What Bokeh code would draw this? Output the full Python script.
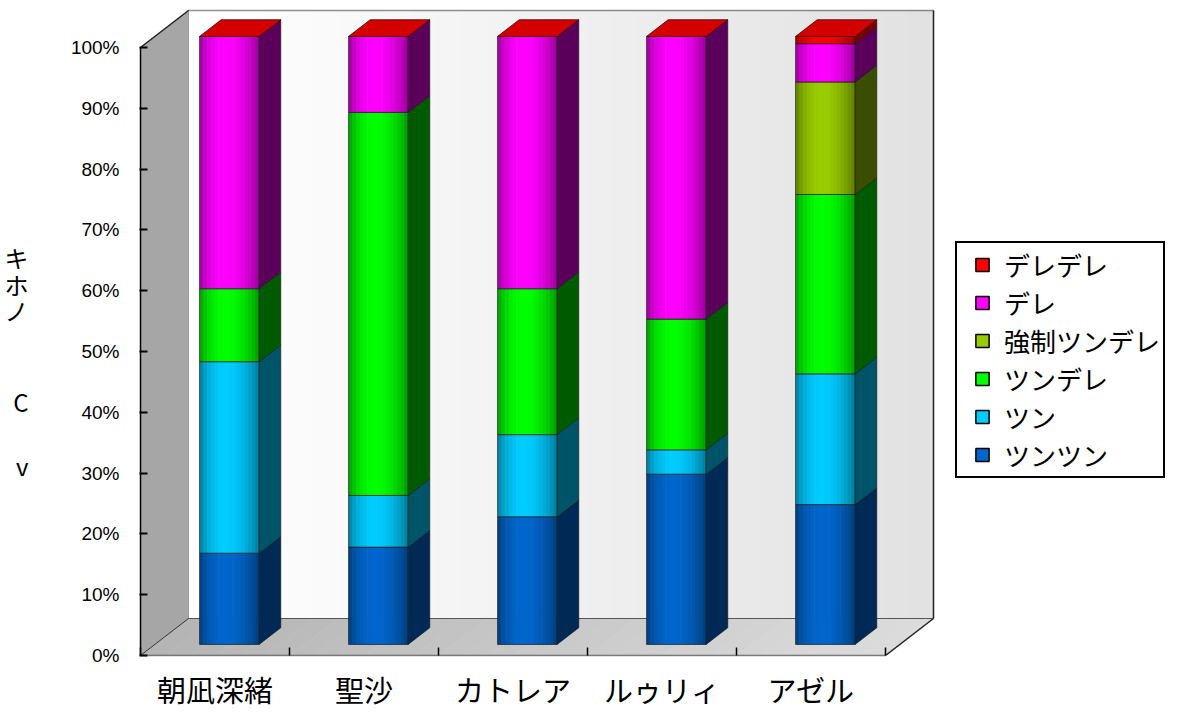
import numpy as np
from bokeh.plotting import figure
from bokeh.models import Range1d, FixedTicker, Legend, LegendItem, LinearAxis
from bokeh.embed import file_html
from bokeh.resources import INLINE

# ---------------- data ----------------
categories = ["朝凪深緒", "聖沙", "カトレア", "ルゥリィ", "アゼル"]
series_names = ["ツンツン", "ツン", "ツンデレ", "強制ツンデレ", "デレ", "デレデレ"]
tsuntsun = [15, 16, 21, 28, 23]
tsun = [31.5, 8.5, 13.5, 4, 21.5]
tsundere = [12, 63, 24, 21.5, 29.5]
kyousei_tsundere = [0, 0, 0, 0, 18.5]
dere = [41.5, 12.5, 41.5, 46.5, 6.3]
deredere = [0, 0, 0, 0, 1.2]
series_values = [tsuntsun, tsun, tsundere, kyousei_tsundere, dere, deredere]
y_ticks = [0, 10, 20, 30, 40, 50, 60, 70, 80, 90, 100]
y_tick_labels = ["0%", "10%", "20%", "30%", "40%", "50%", "60%", "70%", "80%", "90%", "100%"]
y_title_parts = ["キ", "ホ", "ノ", "C", "v"]

front_colors = ["#0066CC", "#00CCFF", "#00FF00", "#99CC00", "#FF00FF", "#FF0000"]
side_colors = ["#002a55", "#005468", "#005a00", "#3a4d00", "#5a005a", "#7a0000"]
top_color = "#d40000"

# ---------------- geometry ----------------
W, H = 1186, 713
FL, FB, FT, FR = 140, 58, 5, 6
PXX, PXY = 149.0, 6.08
frame_w = W - FL - FR
frame_h = H - FB - FT
NCAT = len(categories)
DX, DY = 48 / PXX, 37 / PXY          # full depth of the 3-D box in data units
F0, F1 = 0.30, 0.75                  # bar front / back depth fractions
HALF = 0.2                           # half bar width (category units)
TOTAL = 100

FONT_JP = "Noto Sans CJK JP"


def hex2rgb(h):
    h = h.lstrip("#")
    return np.array([int(h[i:i + 2], 16) for i in (0, 2, 4)], dtype=float)


def rgb2hex(c):
    c = np.clip(np.round(c), 0, 255).astype(int)
    return "#%02x%02x%02x" % tuple(c)


def mix(a, b, t):
    return rgb2hex(hex2rgb(a) * (1 - t) + hex2rgb(b) * t)


def shade(h, f):
    return rgb2hex(hex2rgb(h) * f)


p = figure(width=W, height=H, output_backend="svg", toolbar_location=None,
           x_range=Range1d(0, frame_w / PXX), y_range=Range1d(0, frame_h / PXY),
           min_border_left=FL, min_border_right=FR, min_border_top=FT,
           min_border_bottom=FB)
p.xgrid.visible = False
p.ygrid.visible = False
p.outline_line_color = None
p.background_fill_color = "white"
p.border_fill_color = "white"

EPS = 0.004

# ---------------- walls & floor ----------------
n = 30
xs = np.linspace(DX, NCAT + DX, n + 1)
wall_cols = [mix("#ffffff", "#e2e2e2", (i + 0.5) / n) for i in range(n)]
p.quad(left=xs[:-1], right=xs[1:] + EPS, bottom=DY, top=TOTAL + DY,
       fill_color=wall_cols, line_color=None)

p.patch([0, 0, DX, DX], [0, TOTAL, TOTAL + DY, DY],
        fill_color="#a6a6a6", line_color="#a6a6a6")

fx = np.linspace(0, NCAT, n + 1)
floor_cols = [mix("#b4b4b4", "#dcdcdc", (i + 0.5) / n) for i in range(n)]
p.patches([[fx[i], fx[i + 1] + EPS, fx[i + 1] + EPS + DX, fx[i] + DX] for i in range(n)],
          [[0, 0, DY, DY] for _ in range(n)],
          fill_color=floor_cols, line_color=None)

p.line([DX, DX], [DY, TOTAL + DY], line_color="#9a9a9a", line_width=1)
p.line([DX, NCAT + DX], [DY, DY], line_color="#555555", line_width=1)
p.line([NCAT + DX, NCAT + DX], [DY, TOTAL + DY], line_color="#222222", line_width=1.5)
p.line([DX, NCAT + DX], [TOTAL + DY, TOTAL + DY], line_color="#222222",
       line_width=1.5, line_dash="1 1")
p.line([0, DX], [TOTAL, TOTAL + DY], line_color="#222222", line_width=1.5)
p.line([NCAT, NCAT + DX], [0, DY], line_color="#222222", line_width=1.5)
p.line([0, DX], [0, DY], line_color="#333333", line_width=1)

# ---------------- bars ----------------
NS = 16
prof = [(0.58 + 0.42 * np.sin(np.pi * ((k + 0.5) / NS) ** 0.85) ** 0.8) for k in range(NS)]
dxs = (F1 - F0) * DX
for i in range(NCAT):
    c = i + 0.5
    xl = c - HALF + F0 * DX
    xr = c + HALF + F0 * DX
    sx = np.linspace(xl, xr, NS + 1)
    rights = sx[1:].copy()
    rights[:-1] += EPS
    cum = 0.0
    for s in range(len(series_names)):
        v = series_values[s][i]
        b, t = cum, cum + v
        cum = t
        if v <= 0:
            continue
        cols = [shade(front_colors[s], f) for f in prof]
        p.quad(left=sx[:-1], right=rights, bottom=b + F0 * DY, top=t + F0 * DY,
               fill_color=cols, line_color=None)
        p.quad(left=[xl], right=[xr], bottom=[b + F0 * DY], top=[t + F0 * DY],
               fill_alpha=0, line_color="#1a1a1a", line_width=1, line_alpha=0.7)
        p.patch([xr, xr + dxs, xr + dxs, xr],
                [b + F0 * DY, b + F1 * DY, t + F1 * DY, t + F0 * DY],
                fill_color=side_colors[s], line_color="#111111", line_width=0.8,
                line_alpha=0.7)
    # top face (Excel draws the top-series colour on top)
    p.patch([xl, xr, xr + dxs, xl + dxs],
            [cum + F0 * DY, cum + F0 * DY, cum + F1 * DY, cum + F1 * DY],
            fill_color=top_color, line_color="#3a0000", line_width=0.8)

# ---------------- axes ----------------
yax = p.yaxis[0]
yax.ticker = FixedTicker(ticks=y_ticks, minor_ticks=[])
yax.major_label_overrides = {t: l for t, l in zip(y_ticks, y_tick_labels)}
yax.bounds = (0, TOTAL)
yax.axis_line_color = "black"
yax.axis_line_width = 1.5
yax.major_tick_in = 7
yax.major_tick_out = 1
yax.major_tick_line_width = 2
yax.major_label_standoff = 20
yax.major_label_text_font = "Liberation Sans"
yax.major_label_text_font_size = "19px"
yax.major_label_text_color = "black"

xax = p.xaxis[0]
centers = [i + 0.5 for i in range(NCAT)]
xax.ticker = FixedTicker(ticks=centers, minor_ticks=list(range(NCAT + 1)))
xax.major_label_overrides = {c: l for c, l in zip(centers, categories)}
xax.bounds = (0, NCAT)
xax.axis_line_color = "black"
xax.axis_line_width = 1.5
xax.axis_line_dash = "1 1"
xax.major_tick_in = 0
xax.major_tick_out = 0
xax.minor_tick_in = 8
xax.minor_tick_out = 0
xax.minor_tick_line_color = "black"
xax.minor_tick_line_width = 1.5
xax.major_label_standoff = 12
xax.major_label_text_font = FONT_JP
xax.major_label_text_font_size = "29px"
xax.major_label_text_color = "black"

# ---------------- y title (upright stacked glyphs, as an extra axis) ----------------
title_px_y = [257, 284, 310, 401, 465]
title_ticks = [round((655 - py) / PXY, 2) for py in title_px_y]
tax = LinearAxis(ticker=FixedTicker(ticks=title_ticks, minor_ticks=[]),
                 major_label_overrides={t: s for t, s in zip(title_ticks, y_title_parts)},
                 axis_line_color=None, major_tick_line_color=None,
                 minor_tick_line_color=None, major_label_standoff=33,
                 major_label_text_font=FONT_JP, major_label_text_font_size="24px",
                 major_label_text_color="black")
p.add_layout(tax, "left")

# ---------------- legend ----------------
items = []
for s in range(len(series_names)):
    r = p.scatter(x=[-50], y=[-50], marker="square", size=13, fill_color=front_colors[s],
                  line_color="black", line_width=1.5)
    items.append(LegendItem(label=series_names[s], renderers=[r]))
items = items[::-1]
legend = Legend(items=items, location=(955 - FL, 655 - 478), orientation="vertical",
                glyph_width=44, glyph_height=33, label_width=156,
                label_standoff=0, spacing=1, padding=3, margin=0,
                border_line_color="black", border_line_width=2, border_line_alpha=1,
                background_fill_color="white", background_fill_alpha=1,
                label_text_font=FONT_JP, label_text_font_size="26px",
                label_text_color="black")
p.add_layout(legend)

open("out.html", "w").write(file_html(p, INLINE))
